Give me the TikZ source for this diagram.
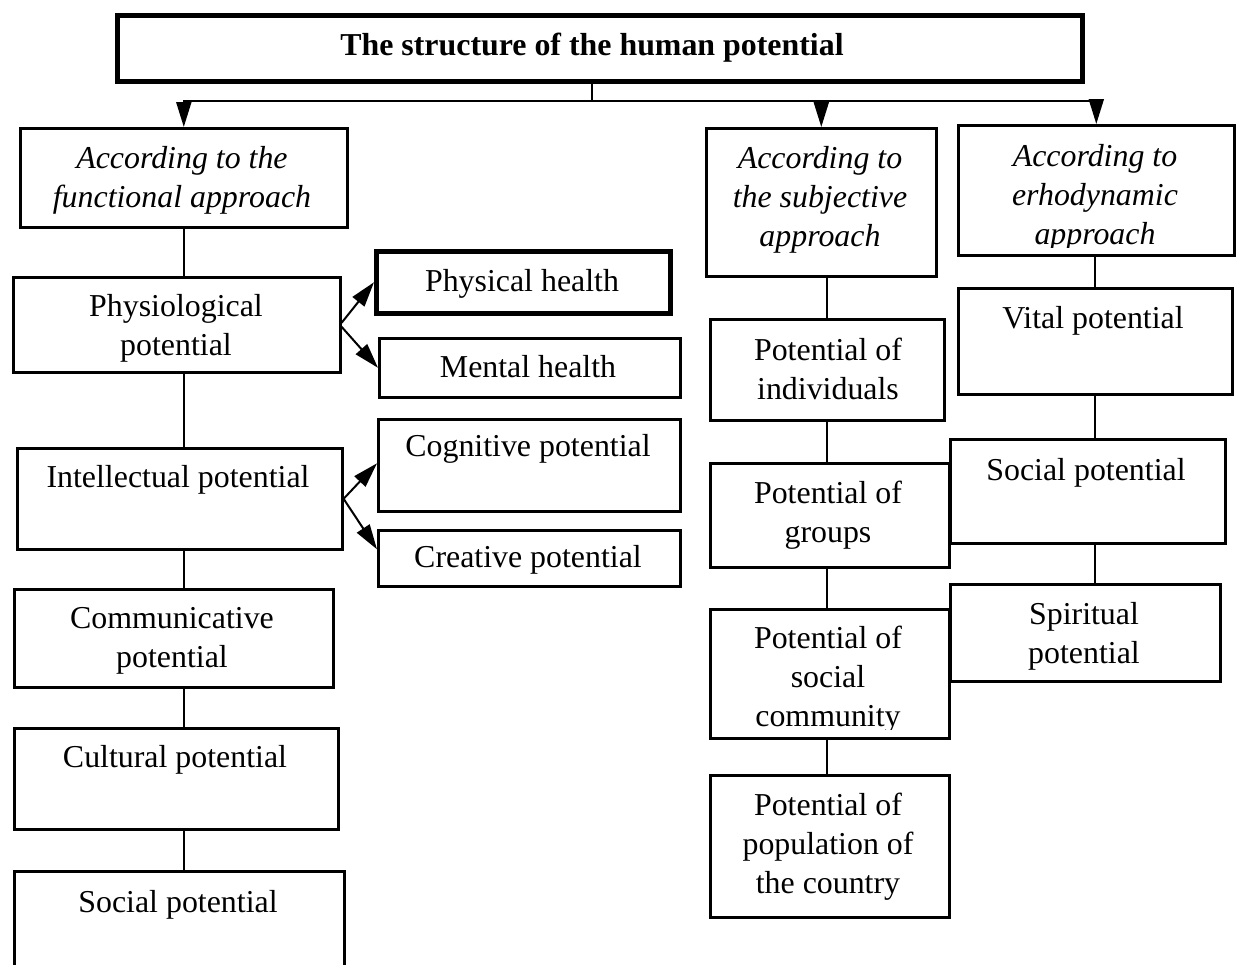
\documentclass[tikz,border=0pt]{standalone}
\usepackage{fontspec}
\setmainfont{Liberation Serif}
\usetikzlibrary{arrows.meta,calc}
\tikzset{
  boxn/.style={draw, line width=2.6bp, inner sep=0pt, anchor=north west},
  thickbox/.style={boxn, line width=4.5bp},
  lbl/.style={anchor=north, align=center, inner sep=0pt, font=\fontsize{32}{39.5}\selectfont},
  ilbl/.style={lbl, font=\fontsize{32}{39.5}\selectfont\itshape},
  tlbl/.style={lbl, font=\fontsize{32}{39.5}\selectfont\bfseries},
  link/.style={line width=2bp},
  arr/.style={line width=2bp, -{Triangle[length=25bp,width=15bp]}},
}
\newcommand\mybox[6]{\node[#1, minimum width={(#5-#3)*1bp}, minimum height={(#6-#4)*1bp}] (#2) at (#3,#4) {};}
\newcommand\mytext[5]{\node[#1] (#2) at (#3,#4-27.65) {\strut #5};}
\begin{document}
\begin{tikzpicture}[x=1bp,y=-1bp]
\useasboundingbox (0,0) rectangle (1239,965);
% title
\mybox{thickbox}{title}{115}{13}{1080}{79}
\mytext{tlbl}{title-t}{592}{55}{The structure of the human potential}
% functional column
\mybox{boxn}{func}{19}{127}{346}{226}
\mytext{ilbl}{func-t}{182}{168}{According to the\\functional approach}
\mybox{boxn}{phys}{12}{276}{339}{371}
\mytext{lbl}{phys-t}{176}{316}{Physiological\\potential}
\mybox{boxn}{intel}{16}{447}{341}{548}
\mytext{lbl}{intel-t}{178}{487}{Intellectual potential}
\mybox{boxn}{comm}{13}{588}{332}{686}
\mytext{lbl}{comm-t}{172}{628}{Communicative\\potential}
\mybox{boxn}{cult}{13}{727}{337}{828}
\mytext{lbl}{cult-t}{175}{767}{Cultural potential}
\mybox{boxn}{soc}{13}{870}{343}{990}
\mytext{lbl}{soc-t}{178}{912}{Social potential}
% sub boxes
\mybox{thickbox}{physh}{374}{249}{668}{311}
\mytext{lbl}{physh-t}{522}{291}{Physical health}
\mybox{boxn}{mental}{378}{337}{679}{396}
\mytext{lbl}{mental-t}{528}{377}{Mental health}
\mybox{boxn}{cogn}{377}{418}{679}{510}
\mytext{lbl}{cogn-t}{528}{456}{Cognitive potential}
\mybox{boxn}{creat}{377}{529}{679}{585}
\mytext{lbl}{creat-t}{528}{567}{Creative potential}
% subjective column
\mybox{boxn}{subj}{705}{127}{935}{275}
\mytext{ilbl}{subj-t}{820}{168}{According to\\the subjective\\approach}
\mybox{boxn}{indiv}{709}{318}{943}{419}
\mytext{lbl}{indiv-t}{828}{360}{Potential of\\individuals}
\mybox{boxn}{groups}{709}{462}{948}{566}
\mytext{lbl}{groups-t}{828}{503}{Potential of\\groups}
\mybox{boxn}{scomm}{709}{608}{948}{737}
\begin{scope}
\clip (709,608) rectangle (948,729);
\mytext{lbl}{scomm-t}{828}{648}{Potential of\\social\\community}
\end{scope}
\mybox{boxn}{popul}{709}{774}{948}{916}
\mytext{lbl}{popul-t}{828}{815}{Potential of\\population of\\the country}
% erhodynamic column
\mybox{boxn}{erho}{957}{124}{1233}{254}
\begin{scope}
\clip (957,124) rectangle (1233,247);
\mytext{ilbl}{erho-t}{1095}{166}{According to\\erhodynamic\\approach}
\end{scope}
\mybox{boxn}{vital}{957}{287}{1231}{393}
\mytext{lbl}{vital-t}{1093}{328}{Vital potential}
\mybox{boxn}{rsoc}{949}{438}{1224}{542}
\mytext{lbl}{rsoc-t}{1086}{480}{Social potential}
\mybox{boxn}{spirit}{949}{583}{1219}{680}
\mytext{lbl}{spirit-t}{1084}{624}{Spiritual\\potential}
% top connectors
\coordinate (hub) at (592,101);
\draw[link] (hub |- title.south) -- (hub);
\draw[arr] (hub) -| (func.north);
\draw[arr] (hub) -| (subj.north);
\draw[arr] (hub) -| (erho.north);
% vertical links
\draw[link] (func.south) -- (func.south |- phys.north);
\draw[link] (func.south |- phys.south) -- (func.south |- intel.north);
\draw[link] (func.south |- intel.south) -- (func.south |- comm.north);
\draw[link] (func.south |- comm.south) -- (func.south |- cult.north);
\draw[link] (func.south |- cult.south) -- (func.south |- soc.north);
\draw[link] (indiv.north |- subj.south) -- (indiv.north);
\draw[link] (indiv.south) -- (indiv.south |- groups.north);
\draw[link] (indiv.south |- groups.south) -- (indiv.south |- scomm.north);
\draw[link] (indiv.south |- scomm.south) -- (indiv.south |- popul.north);
\draw[link] (vital.north |- erho.south) -- (vital.north);
\draw[link] (vital.south) -- (vital.south |- rsoc.north);
\draw[link] (vital.south |- rsoc.south) -- (vital.south |- spirit.north);
% side arrows
\draw[arr] ([yshift=2bp]phys.east) -- (physh.west);
\draw[arr] ([yshift=-2bp]phys.east) -- (mental.west);
\draw[arr] (intel.east) -- ([yshift=2bp]cogn.west);
\draw[arr] (intel.east) -- ([yshift=9bp]creat.west);
\end{tikzpicture}
\end{document}
